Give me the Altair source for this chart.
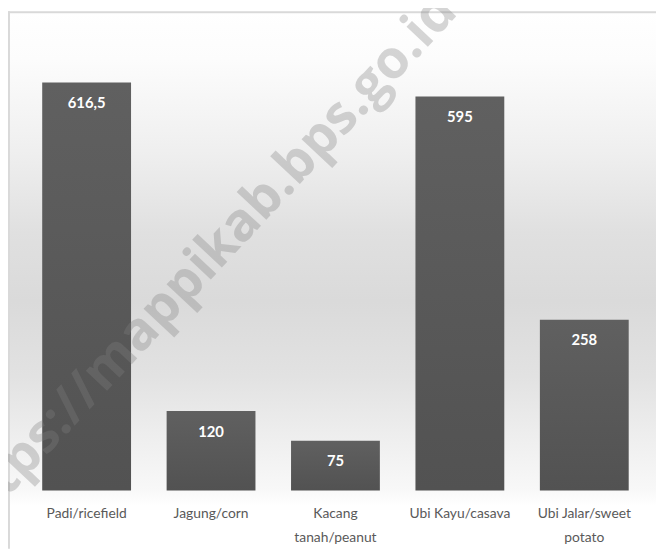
import altair as alt
import pandas as pd

# ---- data ----
categories = ["Padi/ricefield", "Jagung/corn", "Kacang tanah/peanut",
              "Ubi Kayu/casava", "Ubi Jalar/sweet potato"]
label_lines = ["Padi/ricefield", "Jagung/corn", "Kacang\ntanah/peanut",
               "Ubi Kayu/casava", "Ubi Jalar/sweet\npotato"]
values = [616.5, 120, 75, 595, 258]
value_text = ["616,5", "120", "75", "595", "258"]
watermark = ["https://mappikab.bps.go.id"]

W, H = 656, 544

df = pd.DataFrame({"cat": categories, "lab": label_lines,
                   "val": values, "txt": value_text})
one = pd.DataFrame({"wm": watermark})

xs = alt.Scale(domain=categories, range=[17, 646], paddingInner=0.286, paddingOuter=0.14)
ys = alt.Scale(domain=[0, 700], range=[485, 16])

bg_grad = alt.LinearGradient(
    gradient="linear", x1=0, x2=0, y1=0, y2=1,
    stops=[
        alt.GradientStop(color="#ffffff", offset=0.0),
        alt.GradientStop(color="#fcfcfc", offset=0.09),
        alt.GradientStop(color="#efefef", offset=0.26),
        alt.GradientStop(color="#e0e0e0", offset=0.41),
        alt.GradientStop(color="#dadada", offset=0.54),
        alt.GradientStop(color="#e2e2e2", offset=0.68),
        alt.GradientStop(color="#eeeeee", offset=0.79),
        alt.GradientStop(color="#f8f8f8", offset=0.89),
        alt.GradientStop(color="#ffffff", offset=0.92),
        alt.GradientStop(color="#ffffff", offset=1.0),
    ])

bar_grad = alt.LinearGradient(
    gradient="linear", x1=0, x2=0, y1=0, y2=1,
    stops=[alt.GradientStop(color="#606060", offset=0),
           alt.GradientStop(color="#525252", offset=1)])

background = alt.Chart(one).mark_rect(color=bg_grad).encode(
    x=alt.value(0), x2=alt.value(W), y=alt.value(0), y2=alt.value(H))

border_top = alt.Chart(one).mark_rule(color="#d9d9d9", strokeWidth=2).encode(
    x=alt.value(0), x2=alt.value(W), y=alt.value(1))
border_left = alt.Chart(one).mark_rule(color="#d9d9d9", strokeWidth=2).encode(
    x=alt.value(1), y=alt.value(0), y2=alt.value(H))

bars = alt.Chart(df).mark_bar(color=bar_grad).encode(
    x=alt.X("cat:N", scale=xs, axis=None, sort=categories),
    y=alt.Y("val:Q", scale=ys, axis=None),
)

wm = alt.Chart(one).mark_text(
    angle=313, font="Open Sans", fontWeight="bold", fontSize=54,
    color="#808080", opacity=0.32, align="center", baseline="middle"
).encode(text="wm:N", x=alt.value(196), y=alt.value(258))

val_labels = alt.Chart(df).mark_text(
    font="Lato", fontWeight="bold", fontSize=15, color="#ffffff",
    baseline="alphabetic", dy=26
).encode(
    x=alt.X("cat:N", scale=xs, axis=None, sort=categories),
    y=alt.Y("val:Q", scale=ys, axis=None),
    text="txt:N",
)

cat_labels = alt.Chart(df).mark_text(
    font="Lato", fontSize=14, color="#595959", baseline="alphabetic",
    lineBreak="\n", lineHeight=24
).encode(
    x=alt.X("cat:N", scale=xs, axis=None, sort=categories),
    y=alt.value(513),
    text="lab:N",
)

chart = alt.layer(
    background, border_top, border_left, bars, wm,
    val_labels, cat_labels
).properties(
    width=W, height=H, padding=0,
    autosize=alt.AutoSizeParams(type="none")
).configure_view(stroke=None)

chart.save("out.html", embed_options={"renderer": "svg", "actions": False})
